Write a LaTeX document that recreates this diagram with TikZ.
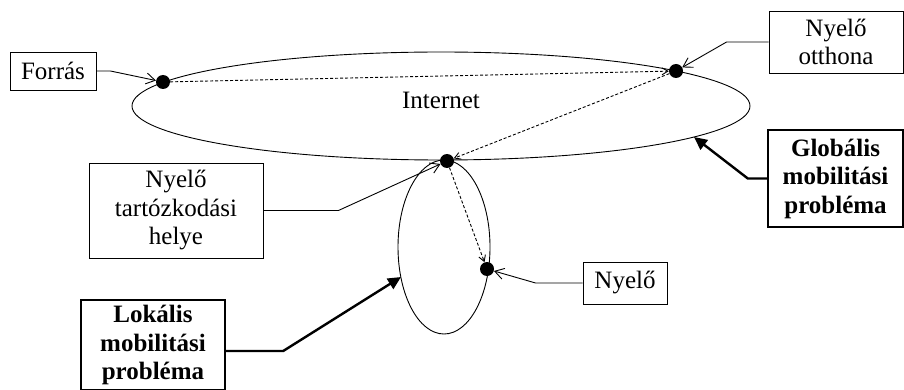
\documentclass[tikz,border=0pt]{standalone}
\usepackage{fontspec}
\setmainfont{Liberation Serif}
\usetikzlibrary{arrows.meta}
\begin{document}
\begin{tikzpicture}[x=1pt,y=-1pt,
  box/.style={draw, line width=0.9pt, align=center, inner sep=0pt, font=\fontsize{25}{28.5}\selectfont},
  bbox/.style={draw, line width=2.4pt, align=center, inner sep=0pt, font=\fontsize{25}{28.5}\selectfont\bfseries},
  dot/.style={circle, fill, inner sep=0pt, minimum size=14pt},
  thinarrow/.style={line width=0.9pt, -{Straight Barb[length=9pt,width=11pt]}},
  thickarrow/.style={line width=2.4pt, -{Triangle[length=13pt,width=12pt]}},
  dsh/.style={line width=0.9pt, dash pattern=on 3pt off 2pt, -{Straight Barb[length=6pt,width=7pt]}},
]
\useasboundingbox (0,0) rectangle (904,390);
\draw[line width=0.9pt] (441,106) ellipse [x radius=309pt, y radius=54pt];
\draw[line width=0.9pt] (444,247) ellipse [x radius=46pt, y radius=87pt];
\node[font=\fontsize{25}{28.5}\selectfont] (inet) at (441,100) {Internet};
\node[dot] (fdot) at (163,82) {};
\node[dot] (odot) at (676,71) {};
\node[dot] (bdot) at (447,161) {};
\node[dot] (ndot) at (487,269) {};
\coordinate (gtip) at (694,137);
\coordinate (ltip) at (401,277);
\node[box, minimum width=86pt, minimum height=38pt] (forras) at (53,71) {Forrás};
\node[box, minimum width=134pt, minimum height=62pt] (otthona) at (836,42) {Nyelő\\otthona};
\node[box, minimum width=174pt, minimum height=95pt] (tart) at (176,210.5) {Nyelő\\tartózkodási\\helye};
\node[box, minimum width=84pt, minimum height=42pt] (nyelo) at (625,283) {Nyelő};
\node[bbox, minimum width=144pt, minimum height=90pt] (lok) at (153,345) {Lokális\\mobilitási\\probléma};
\node[bbox, minimum width=135pt, minimum height=97pt] (glob) at (835.5,178.5) {Globális\\mobilitási\\probléma};
\draw[thinarrow] (forras.east) -- ++(14,0) -- (fdot);
\draw[thinarrow] (otthona.west) -- ++(-42,0) -- (odot);
\draw[thinarrow] (tart.east) -- ++(75,0) -- (bdot);
\draw[thinarrow] (nyelo.west) -- ++(-47,0) -- (ndot);
\draw[thickarrow] ([yshift=-6pt]lok.east) -- ++(57,0) -- (ltip);
\draw[thickarrow] (glob.west) -- ++(-19,0) -- (gtip);
\draw[dsh] (fdot) -- (odot);
\draw[dsh] (odot) -- (bdot);
\draw[dsh] (bdot) -- (ndot);
\end{tikzpicture}
\end{document}
